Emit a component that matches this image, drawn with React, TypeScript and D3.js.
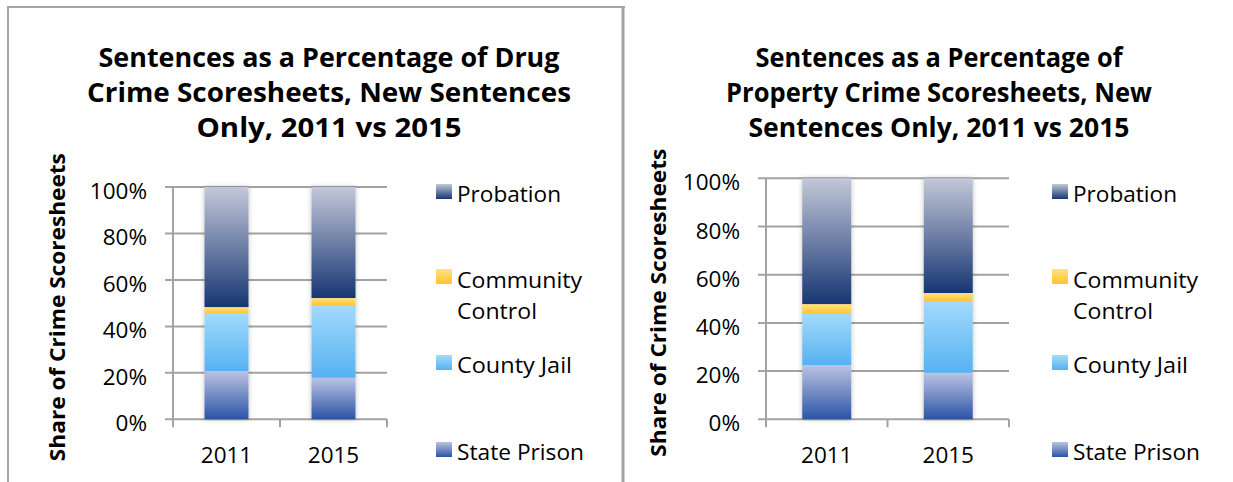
import React from "react";
import * as d3 from "d3";

const categories = ["2011", "2015"];
const seriesNames = ["State Prison", "County Jail", "Community Control", "Probation"];

// Drug crime scoresheets (% of sentences)
const drugStatePrison = [20.8, 17.9];
const drugCountyJail = [24.7, 31.3];
const drugCommunityControl = [2.8, 3.0];
const drugProbation = [51.7, 47.8];

// Property crime scoresheets (% of sentences)
const propStatePrison = [22.5, 19.3];
const propCountyJail = [21.3, 29.8];
const propCommunityControl = [4.0, 3.3];
const propProbation = [52.2, 47.6];

const yTicks = [0, 20, 40, 60, 80, 100];

const drugTitle = ["Sentences as a Percentage of Drug", "Crime Scoresheets, New Sentences", "Only, 2011 vs 2015"];
const propTitle = ["Sentences as a Percentage of", "Property Crime Scoresheets, New", "Sentences Only, 2011 vs 2015"];
const yAxisTitle = "Share of Crime Scoresheets";

const gradients: Record<string, [string, string]> = {
  "State Prison": ["#bcc3e3", "#2b54a6"],
  "County Jail": ["#a2dafc", "#56b2f1"],
  "Community Control": ["#ffe383", "#ffc42e"],
  Probation: ["#c3c8d9", "#173673"],
};
const gradId = (s: string) => "g-" + s.replace(/\s+/g, "");

const FONT = "'Open Sans', 'Noto Sans', sans-serif";

type Panel = {
  title: string[];
  titleWidths: number[];
  titleCx: number;
  sp: number[];
  cj: number[];
  cc: number[];
  pr: number[];
  x0: number;
  x1: number;
  yTop: number;
  yBot: number;
  barW: number;
  axisTitleX: number;
  legendX: number;
};

function ChartPanel({ p }: { p: Panel }) {
  const rows = categories.map((c, i) => ({
    cat: c,
    "State Prison": p.sp[i],
    "County Jail": p.cj[i],
    "Community Control": p.cc[i],
    Probation: p.pr[i],
  }));
  const stacked = d3.stack<any>().keys(seriesNames)(rows);
  const x = d3.scaleBand().domain(categories).range([p.x0, p.x1]);
  const y = d3.scaleLinear().domain([0, 100]).range([p.yBot, p.yTop]);
  const grid = "#a3a3a3";
  const legendOrder = ["Probation", "Community Control", "County Jail", "State Prison"];
  const legendY = [184, 269, 355, 442];
  const titleBase = [67, 102, 137];
  const textWidths: Record<string, number> = {
    Probation: 104,
    "State Prison": 127,
    "County Jail": 115,
  };
  return (
    <g>
      {p.title.map((t, i) => (
        <text
          key={i}
          x={p.titleCx}
          y={titleBase[i]}
          textAnchor="middle"
          fontFamily={FONT}
          fontWeight={700}
          fontSize={26}
          textLength={p.titleWidths[i]}
          lengthAdjust="spacingAndGlyphs"
          fill="#000"
        >
          {t}
        </text>
      ))}
      <text
        transform={`translate(${p.axisTitleX},${(p.yTop + p.yBot) / 2 + 4}) rotate(-90)`}
        textAnchor="middle"
        fontFamily={FONT}
        fontWeight={700}
        fontSize={21}
        textLength={308}
        lengthAdjust="spacingAndGlyphs"
        fill="#000"
      >
        {yAxisTitle}
      </text>
      {/* gridlines */}
      {yTicks.map((t) => (
        <line key={"g" + t} x1={p.x0 - 8} x2={p.x1} y1={y(t)} y2={y(t)} stroke={grid} strokeWidth={2} />
      ))}
      {/* y axis */}
      <line x1={p.x0} x2={p.x0} y1={p.yTop} y2={p.yBot + 6} stroke={grid} strokeWidth={2} />
      {/* category ticks */}
      {[p.x0, ...categories.map((c) => (x(c) as number) + x.bandwidth()), ].map((xx, i) => (
        <line key={"ct" + i} x1={xx} x2={xx} y1={p.yBot} y2={p.yBot + 8} stroke={grid} strokeWidth={2} />
      ))}
      {yTicks.map((t) => (
        <text
          key={"yl" + t}
          x={p.x0 - 26}
          y={y(t) + 12}
          textAnchor="end"
          fontFamily={FONT}
          fontSize={22.5}
          fill="#000"
        >
          {t + "%"}
        </text>
      ))}
      {categories.map((c) => (
        <text
          key={"xl" + c}
          x={(x(c) as number) + x.bandwidth() / 2}
          y={463}
          textAnchor="middle"
          fontFamily={FONT}
          fontSize={22.5}
          fill="#000"
        >
          {c}
        </text>
      ))}
      {/* bars */}
      <g filter="url(#shadow)">
        {stacked.map((s) =>
          s.map((d, i) => (
            <rect
              key={s.key + i}
              x={(x(categories[i]) as number) + (x.bandwidth() - p.barW) / 2}
              width={p.barW}
              y={y(d[1])}
              height={y(d[0]) - y(d[1])}
              fill={`url(#${gradId(s.key)})`}
            />
          ))
        )}
      </g>
      {/* legend */}
      {legendOrder.map((s, i) => (
        <g key={"lg" + s}>
          <rect x={p.legendX} y={legendY[i]} width={16} height={15} fill={`url(#${gradId(s)})`} />
          {s === "Community Control" ? (
            <>
              <text x={p.legendX + 21} y={legendY[i] + 19} fontFamily={FONT} fontSize={22.5} textLength={125} lengthAdjust="spacingAndGlyphs" fill="#000">
                Community
              </text>
              <text x={p.legendX + 21} y={legendY[i] + 50} fontFamily={FONT} fontSize={22.5} textLength={80} lengthAdjust="spacingAndGlyphs" fill="#000">
                Control
              </text>
            </>
          ) : (
            <text
              x={p.legendX + 21}
              y={legendY[i] + 18}
              fontFamily={FONT}
              fontSize={22.5}
              textLength={textWidths[s]}
              lengthAdjust="spacingAndGlyphs"
              fill="#000"
            >
              {s}
            </text>
          )}
        </g>
      ))}
    </g>
  );
}

export default function App() {
  const left: Panel = {
    title: drugTitle,
    titleWidths: [461, 484, 265],
    titleCx: 329,
    sp: drugStatePrison,
    cj: drugCountyJail,
    cc: drugCommunityControl,
    pr: drugProbation,
    x0: 173,
    x1: 387,
    yTop: 187,
    yBot: 419.3,
    barW: 44,
    axisTitleX: 65,
    legendX: 436,
  };
  const right: Panel = {
    title: propTitle,
    titleWidths: [367, 426, 381],
    titleCx: 939,
    sp: propStatePrison,
    cj: propCountyJail,
    cc: propCommunityControl,
    pr: propProbation,
    x0: 766,
    x1: 1009,
    yTop: 178.3,
    yBot: 419.3,
    barW: 49,
    axisTitleX: 666,
    legendX: 1052,
  };
  return (
    <svg
      width={1233}
      height={482}
      style={{ position: "absolute", left: 0, top: 0, background: "#fff" }}
    >
      <defs>
        {seriesNames.map((s) => (
          <linearGradient key={s} id={gradId(s)} x1="0" y1="0" x2="0" y2="1">
            <stop offset="0%" stopColor={gradients[s][0]} />
            <stop offset="100%" stopColor={gradients[s][1]} />
          </linearGradient>
        ))}
        <filter id="shadow" x="-30%" y="-10%" width="160%" height="120%">
          <feDropShadow dx="0" dy="0" stdDeviation="2.5" floodColor="#000" floodOpacity="0.25" />
        </filter>
      </defs>
      <rect x={0} y={0} width={1233} height={482} fill="#fff" />
      {/* frames */}
      <line x1={8} x2={625} y1={7} y2={7} stroke="#a6a6a6" strokeWidth={2} />
      <line x1={8} x2={8} y1={6} y2={482} stroke="#a6a6a6" strokeWidth={2} />
      <line x1={623} x2={623} y1={6} y2={482} stroke="#a3a3a3" strokeWidth={3} />
      <ChartPanel p={left} />
      <ChartPanel p={right} />
    </svg>
  );
}
